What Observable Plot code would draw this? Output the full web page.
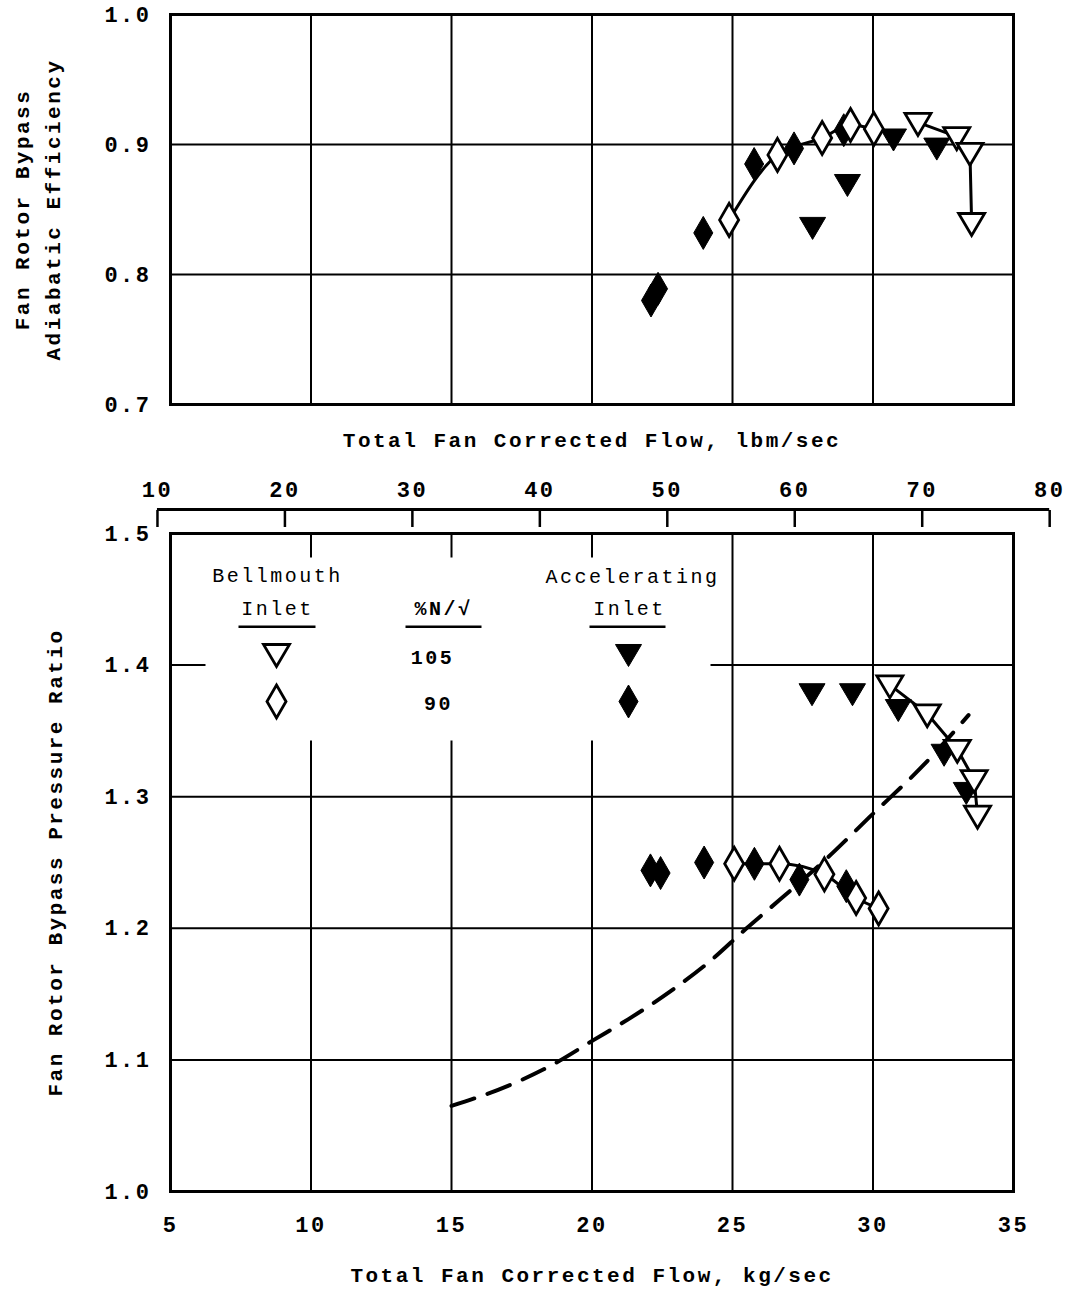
<!DOCTYPE html>
<html><head><meta charset="utf-8">
<script src="https://cdn.jsdelivr.net/npm/d3@7"></script>
<script src="https://cdn.jsdelivr.net/npm/@observablehq/plot@0.6"></script>
<style>
body{margin:0;background:#fff;}
#chart{width:1068px;}
#chart svg{display:block;}
</style></head><body><div id="chart"></div>
<script>
// ---- axes / ticks ----
const flowTicksKg = [5, 10, 15, 20, 25, 30, 35];
const flowTicksLbm = [10, 20, 30, 40, 50, 60, 70, 80];
const effTicks = [0.7, 0.8, 0.9, 1.0];
const prTicks = [1.0, 1.1, 1.2, 1.3, 1.4, 1.5];

// ---- efficiency panel (flow kg/sec, efficiency) ----
const effBell105Flow = [31.6, 32.98, 33.45, 33.51];
const effBell105 = [0.917, 0.906, 0.894, 0.840];
const effAccel105Flow = [27.85, 29.09, 30.73, 32.27];
const effAccel105 = [0.837, 0.870, 0.905, 0.898];
const effBell90Flow = [24.88, 26.6, 28.19, 29.2, 30.03];
const effBell90 = [0.842, 0.892, 0.905, 0.915, 0.912];
const effAccel90Flow = [22.1, 22.35, 23.96, 25.77, 27.19, 28.96];
const effAccel90 = [0.780, 0.789, 0.832, 0.885, 0.897, 0.911];

// ---- pressure ratio panel (flow kg/sec, pressure ratio) ----
const prBell105Flow = [30.6, 31.93, 33.0, 33.6, 33.72];
const prBell105 = [1.385, 1.363, 1.336, 1.313, 1.286];
const prAccel105Flow = [27.83, 29.27, 30.9, 32.53, 33.32];
const prAccel105 = [1.379, 1.379, 1.367, 1.333, 1.304];
const prBell90Flow = [25.06, 26.67, 28.27, 29.4, 30.2];
const prBell90 = [1.249, 1.249, 1.241, 1.223, 1.215];
const prAccel90Flow = [22.08, 22.44, 23.99, 25.78, 27.38, 29.05];
const prAccel90 = [1.244, 1.242, 1.250, 1.249, 1.237, 1.232];
const opLineFlow = [15.0, 17.2, 18.65, 20.05, 21.3, 22.85, 24.2, 25.5, 26.7, 28.3, 29.9, 31.75, 33.4];
const opLine = [1.065, 1.082, 1.097, 1.115, 1.131, 1.153, 1.175, 1.200, 1.222, 1.252, 1.285, 1.323, 1.362];

// ---- text ----
const effTitle = "Fan Rotor Bypass\nAdiabatic Efficiency";
const prTitle = "Fan Rotor Bypass Pressure Ratio";
const lbmTitle = "Total Fan Corrected Flow, lbm/sec";
const kgTitle = "Total Fan Corrected Flow, kg/sec";
const legendBell = ["Bellmouth", "Inlet"];
const legendAccel = ["Accelerating", "Inlet"];
const legendSpeedHead = "%N/\u221A";
const legendSpeeds = ["105", "90"];

// ---- helpers ----
const kgPerLbm = 0.45359237;
const zip = (xs, ys) => xs.map((x, i) => ({x, y: ys[i]}));
const triDown = {
  draw(ctx, size) {
    const s = Math.sqrt(size / 314);
    ctx.moveTo(-13 * s, -9 * s);
    ctx.lineTo(13 * s, -9 * s);
    ctx.lineTo(0, 13 * s);
    ctx.closePath();
  }
};
const font = "'Liberation Mono','DejaVu Sans Mono',monospace";
const W = 1068, ML = 170, MR = 55;
const baseStyle = {fontFamily: font, fontSize: "22px", fontWeight: "bold", letterSpacing: "2.5px",
  color: "black", background: "white", display: "block", overflow: "visible"};
const gridOpts = {stroke: "black", strokeOpacity: 1, strokeWidth: 2};
const titleOpts = {fontSize: 21, textAnchor: "middle", lineAnchor: "middle"};

function seriesMarks(b105, a105, b90, a90) {
  return [
    Plot.line(b105, {x: "x", y: "y", stroke: "black", strokeWidth: 3}),
    Plot.line(b90, {x: "x", y: "y", stroke: "black", strokeWidth: 3, curve: "monotone-x"}),
    Plot.dot(a105, {x: "x", y: "y", symbol: triDown, r: 10, fill: "black", stroke: "black", strokeWidth: 1}),
    Plot.dot(a90, {x: "x", y: "y", symbol: "diamond", r: 10, fill: "black", stroke: "black", strokeWidth: 1}),
    Plot.dot(b105, {x: "x", y: "y", symbol: triDown, r: 10, fill: "white", stroke: "black", strokeWidth: 2.8}),
    Plot.dot(b90, {x: "x", y: "y", symbol: "diamond", r: 10, fill: "white", stroke: "black", strokeWidth: 2.8})
  ];
}

// ---- top panel ----
const topChart = Plot.plot({
  width: W, height: 425, marginLeft: ML, marginRight: MR, marginTop: 14, marginBottom: 21,
  style: baseStyle,
  x: {domain: [5, 35], axis: null},
  y: {domain: [0.7, 1.0]},
  marks: [
    Plot.gridX(flowTicksKg, gridOpts),
    Plot.gridY(effTicks, gridOpts),
    Plot.frame({stroke: "black", strokeWidth: 3}),
    Plot.axisY({ticks: effTicks, tickFormat: d => d.toFixed(1), tickSize: 0, tickPadding: 19, label: null}),
    Plot.text([effTitle], {frameAnchor: "left", rotate: -90, dx: -136, lineHeight: 1.5, ...titleOpts}),
    ...seriesMarks(zip(effBell105Flow, effBell105), zip(effAccel105Flow, effAccel105),
                   zip(effBell90Flow, effBell90), zip(effAccel90Flow, effAccel90))
  ]
});

// ---- bottom panel ----
const lbmKg = flowTicksLbm.map(v => v * kgPerLbm);
const legendText = (t, dx, dy, weight = "normal") =>
  Plot.text([t], {frameAnchor: "top-left", textAnchor: "middle", lineAnchor: "middle", dx, dy,
    fontSize: 20, fontWeight: weight, letterSpacing: "1.5px"});
const underline = (x0, x1) => Plot.frame({fill: "black", stroke: null,
  insetLeft: x0, insetRight: 843 - x1, insetTop: 92, insetBottom: 658 - 94.5});

const botChart = Plot.plot({
  width: W, height: 864, marginLeft: ML, marginRight: MR, marginTop: 108, marginBottom: 98,
  style: baseStyle,
  x: {domain: [5, 35]},
  y: {domain: [1.0, 1.5]},
  marks: [
    Plot.gridX(flowTicksKg, gridOpts),
    Plot.gridY(prTicks, gridOpts),
    Plot.frame({fill: "white", stroke: null, insetLeft: 35, insetTop: 24, insetRight: 303, insetBottom: 451}),
    Plot.frame({stroke: "black", strokeWidth: 3}),
    Plot.axisY({ticks: prTicks, tickFormat: d => d.toFixed(1), tickSize: 0, tickPadding: 19, label: null}),
    Plot.axisX({anchor: "bottom", ticks: flowTicksKg, tickFormat: d => String(d), tickSize: 0, tickPadding: 25, label: null}),
    Plot.axisX({anchor: "top", ticks: lbmKg, tickFormat: d => String(Math.round(d / kgPerLbm)),
      tickSize: 17, dy: -7, tickPadding: 13, strokeWidth: 2.5, label: null}),
    Plot.ruleY([prTicks[prTicks.length - 1]], {x1: lbmKg[0], x2: lbmKg[lbmKg.length - 1], dy: -24, stroke: "black", strokeWidth: 3}),
    Plot.text([lbmTitle], {frameAnchor: "top", dy: -93, ...titleOpts}),
    Plot.text([kgTitle], {frameAnchor: "bottom", dy: 84, ...titleOpts}),
    Plot.text([prTitle], {frameAnchor: "left", rotate: -90, dx: -115, ...titleOpts}),
    // legend
    legendText(legendBell[0], 107, 42),
    legendText(legendBell[1], 107, 75),
    underline(68, 145),
    legendText(legendSpeedHead, 273, 75, "bold"),
    underline(235, 311),
    legendText(legendAccel[0], 462, 43),
    legendText(legendAccel[1], 459, 75),
    underline(419, 495),
    legendText(legendSpeeds[0], 262, 124, "bold"),
    legendText(legendSpeeds[1], 268, 170, "bold"),
    Plot.dot([0], {frameAnchor: "top-left", dx: 106, dy: 120, symbol: triDown, r: 10, fill: "white", stroke: "black", strokeWidth: 2.8}),
    Plot.dot([0], {frameAnchor: "top-left", dx: 106, dy: 168, symbol: "diamond", r: 10, fill: "white", stroke: "black", strokeWidth: 2.8}),
    Plot.dot([0], {frameAnchor: "top-left", dx: 458, dy: 120, symbol: triDown, r: 10, fill: "black", stroke: "black", strokeWidth: 1}),
    Plot.dot([0], {frameAnchor: "top-left", dx: 458, dy: 168, symbol: "diamond", r: 10, fill: "black", stroke: "black", strokeWidth: 1}),
    // data
    Plot.line(zip(opLineFlow, opLine), {x: "x", y: "y", stroke: "black", strokeWidth: 4, strokeDasharray: "24,14", curve: "monotone-x"}),
    ...seriesMarks(zip(prBell105Flow, prBell105), zip(prAccel105Flow, prAccel105),
                   zip(prBell90Flow, prBell90), zip(prAccel90Flow, prAccel90))
  ]
});

const root = document.getElementById("chart");
root.appendChild(topChart);
root.appendChild(botChart);
</script>
</body></html>
